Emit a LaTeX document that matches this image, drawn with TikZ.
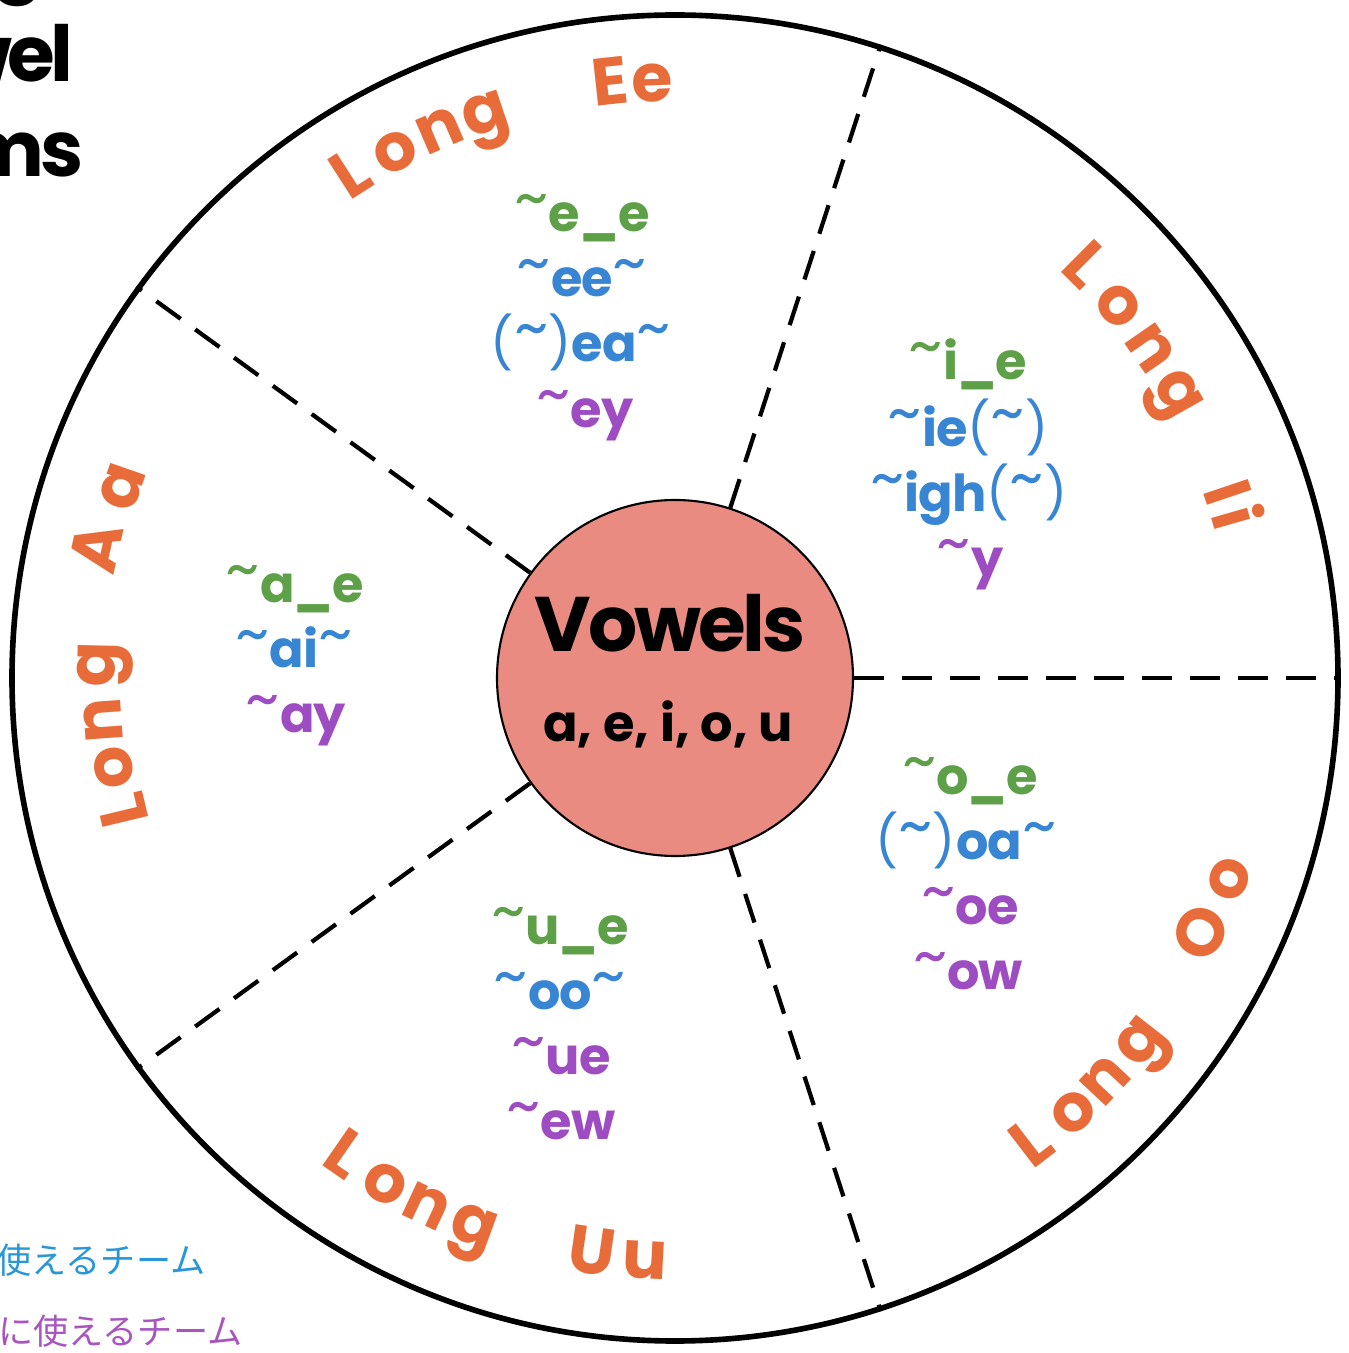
\documentclass[tikz,border=0pt]{standalone}
\usepackage{fontspec}
\setmainfont{Poppins}
\newfontfamily\jpfont{Noto Sans CJK JP}
\usepackage{xcolor}
\usepackage{graphicx}
\definecolor{longorange}{RGB}{232,107,58}
\definecolor{teamgreen}{RGB}{94,160,72}
\definecolor{teamblue}{RGB}{56,134,211}
\definecolor{teampurple}{RGB}{158,76,194}
\definecolor{hubpink}{RGB}{234,139,129}
\definecolor{jpblue}{RGB}{40,150,215}
\definecolor{jppurple}{RGB}{168,85,192}
\newcommand{\wig}{\raisebox{0.25em}{\scalebox{1.3}[1.25]{\mdseries\textasciitilde}}}
\newcommand{\opt}{{\mdseries(}\wig{\mdseries)}}

\begin{document}
\begin{tikzpicture}

		\tikzset{wheel/.style = {shape=circle,draw,line width=1.6pt,minimum size=13.26cm,inner sep=0pt}}
		\tikzset{hub/.style = {shape=circle,draw,fill=hubpink,line width=0.6pt,minimum size=3.56cm,inner sep=0pt}}
		\tikzset{divider/.style = {line width=1.2pt,dash pattern=on 0.3cm off 0.18cm}}
		\tikzset{ltr/.style = {text=longorange,font=\fontsize{19}{19}\selectfont\bfseries,inner sep=0pt,anchor=base}}
		\tikzset{team/.style = {font=\fontsize{14.5}{18}\selectfont\bfseries\addfontfeature{LetterSpace=-2},inner sep=0pt,anchor=base}}
		\tikzset{title/.style = {font=\fontsize{22}{22}\selectfont\bfseries\addfontfeature{LetterSpace=-6},inner sep=0pt,anchor=base east}}
		\tikzset{jp/.style = {font=\jpfont\fontsize{10}{10}\selectfont,inner sep=0pt,anchor=base east}}
		\clip (0,0) rectangle (13.49,13.53);
		\coordinate (c) at (6.75,6.75);
		\node[wheel] (wheel) at (c) {};
		\node[hub] (hub) at (c) {};
		\node[font=\fontsize{22}{22}\selectfont\bfseries\addfontfeature{LetterSpace=-4},inner sep=0pt,anchor=base] (vtitle) at (6.70,7.01) {Vowels};
		\node[font=\fontsize{14.5}{18}\selectfont\bfseries,inner sep=0pt,anchor=base] (vlist) at (6.68,6.11) {a, e, i, o, u};
		%dividers
		\foreach \a in {0,72,144,216,288}
			\draw[divider] (hub.\a) -- (wheel.\a);
		%title and notes
		\node[title] (t1) at (0.45,13.67) {Long};
		\node[title] (t2) at (0.74,12.71) {Vowel};
		\node[title] (t3) at (0.84,11.76) {Teams};
		\node[jp,text=jpblue] (n1) at (2.06,0.79) {使えるチーム};
		\node[jp,text=jppurple] (n2) at (2.43,0.09) {に使えるチーム};
		%labels round the rim
		\foreach \ch/\a [count=\i] in {L/122.7,o/118.0,n/113.3,g/108.6,E/96.2,e/92.2}
			\node[ltr,rotate=\a-90] (ee\i) at ([shift={(\a:5.77)}]c) {\ch};
		\foreach \ch/\a [count=\i] in {L/45.2,o/40.0,n/34.7,g/29.5,I/18.6,i/16.0}
			\node[ltr,rotate=\a-90] (ii\i) at ([shift={(\a:5.60)}]c) {\ch};
		\foreach \ch/\a/\r [count=\i] in {L/193.5/5.44,o/189.1/5.50,n/184.2/5.55,g/178.7/5.60,A/167.3/5.70,a/160.9/5.66}
			\node[ltr,rotate=\a-90] (aa\i) at ([shift={(\a:\r)}]c) {\ch};
		\foreach \ch/\a [count=\i] in {L/-52.5,o/-47.5,n/-43.1,g/-38.0,O/-25.8,o/-20.0}
			\node[ltr,rotate=\a+90] (oo\i) at ([shift={(\a:6.08)}]c) {\ch};
		\foreach \ch/\a [count=\i] in {L/235.3,o/240.2,n/244.8,g/249.9,U/261.8,u/267.0}
			\node[ltr,rotate=\a+90] (uu\i) at ([shift={(\a:6.02)}]c) {\ch};
		%teams
		\node[team,text=teamgreen] (ee-a) at (5.82,11.21) {\wig e\_e};
		\node[team,text=teamblue] (ee-b) at (5.82,10.56) {\wig ee\wig};
		\node[team,text=teamblue] (ee-c) at (5.81,9.91) {\opt ea\wig};
		\node[team,text=teampurple] (ee-d) at (5.85,9.25) {\wig ey};
		\node[team,text=teamgreen] (ii-a) at (9.68,9.73) {\wig i\_e};
		\node[team,text=teamblue] (ii-b) at (9.68,9.06) {\wig ie\opt};
		\node[team,text=teamblue] (ii-c) at (9.69,8.41) {\wig igh\opt};
		\node[team,text=teampurple] (ii-d) at (9.70,7.76) {\wig y};
		\node[team,text=teamgreen] (aa-a) at (2.95,7.50) {\wig a\_e};
		\node[team,text=teamblue] (aa-b) at (2.94,6.85) {\wig ai\wig};
		\node[team,text=teampurple] (aa-c) at (2.96,6.20) {\wig ay};
		\node[team,text=teamgreen] (oo-a) at (9.70,5.58) {\wig o\_e};
		\node[team,text=teamblue] (oo-b) at (9.66,4.93) {\opt oa\wig};
		\node[team,text=teampurple] (oo-c) at (9.70,4.28) {\wig oe};
		\node[team,text=teampurple] (oo-d) at (9.68,3.63) {\wig ow};
		\node[team,text=teamgreen] (uu-a) at (5.60,4.08) {\wig u\_e};
		\node[team,text=teamblue] (uu-b) at (5.60,3.43) {\wig oo\wig};
		\node[team,text=teampurple] (uu-c) at (5.61,2.78) {\wig ue};
		\node[team,text=teampurple] (uu-d) at (5.61,2.13) {\wig ew};
\end{tikzpicture}
\end{document}
